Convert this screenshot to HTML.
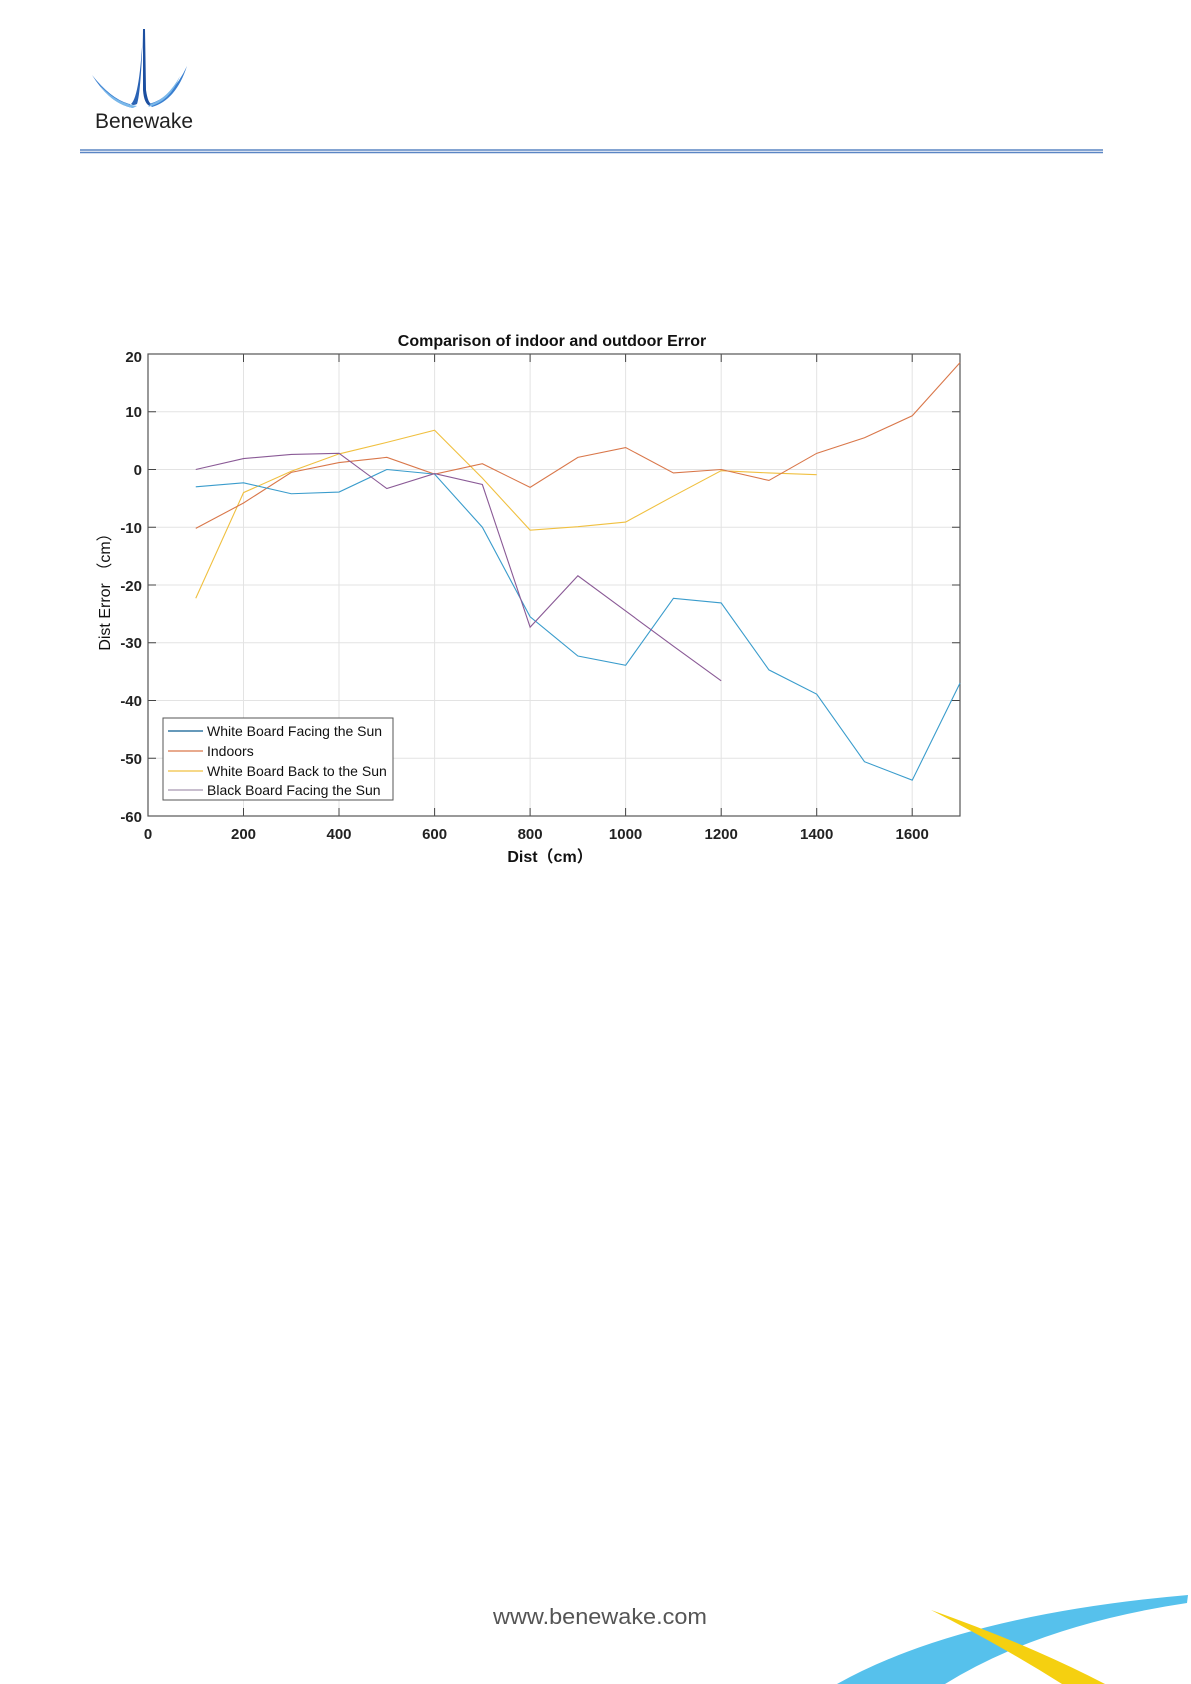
<!DOCTYPE html>
<html><head><meta charset="utf-8"><style>
html,body{margin:0;padding:0;background:#fff;}
body{width:1191px;height:1684px;position:relative;overflow:hidden;font-family:"Liberation Sans","Noto Sans CJK SC",sans-serif;}
</style></head><body>
<svg width="1191" height="1684" viewBox="0 0 1191 1684" xmlns="http://www.w3.org/2000/svg" style="position:absolute;left:0;top:0">
<!-- logo -->
<path d="M143,29 L145,29 L146,90 Q148,104 152,104 L150,106 Q144,104 143,90 Z" fill="#1c4fa0"/>
<path d="M143,29 Q141,92 137,104 Q133,106 131,104 Q140,96 143,29Z" fill="#2a63b5"/>
<path d="M92,75 Q112,100 130,104 L133,108 Q110,104 92,75Z" fill="#3a7fd0"/>
<path d="M187,66 Q176,100 152,107 L149,104 Q172,98 187,66Z" fill="#3a7fd0"/>
<path d="M99,84 Q115,103 137,106 L133,108 Q112,104 99,84Z" fill="#7ab8ea"/>
<path d="M180,76 Q170,102 148,107 L151,104 Q168,98 180,76Z" fill="#7ab8ea"/>
<text x="95" y="128" font-size="21" fill="#222" textLength="98" lengthAdjust="spacingAndGlyphs">Benewake</text>
<!-- header lines -->
<line x1="80" y1="150" x2="1103" y2="150" stroke="#5b86c4" stroke-width="1.5"/>
<line x1="80" y1="152.5" x2="1103" y2="152.5" stroke="#5b86c4" stroke-width="1.5"/>
<!-- grid -->
<g stroke="#e3e3e3" stroke-width="1">
<line x1="243.5" y1="354" x2="243.5" y2="816"/><line x1="339" y1="354" x2="339" y2="816"/><line x1="434.6" y1="354" x2="434.6" y2="816"/><line x1="530.1" y1="354" x2="530.1" y2="816"/><line x1="625.6" y1="354" x2="625.6" y2="816"/><line x1="721.2" y1="354" x2="721.2" y2="816"/><line x1="816.7" y1="354" x2="816.7" y2="816"/><line x1="912.2" y1="354" x2="912.2" y2="816"/>
<line x1="148" y1="411.75" x2="960" y2="411.75"/><line x1="148" y1="469.5" x2="960" y2="469.5"/><line x1="148" y1="527.25" x2="960" y2="527.25"/><line x1="148" y1="585" x2="960" y2="585"/><line x1="148" y1="642.75" x2="960" y2="642.75"/><line x1="148" y1="700.5" x2="960" y2="700.5"/><line x1="148" y1="758.25" x2="960" y2="758.25"/>
</g>
<!-- ticks -->
<g stroke="#444" stroke-width="1">
<path d="M243.5,816v-8M339,816v-8M434.6,816v-8M530.1,816v-8M625.6,816v-8M721.2,816v-8M816.7,816v-8M912.2,816v-8M243.5,354v8M339,354v8M434.6,354v8M530.1,354v8M625.6,354v8M721.2,354v8M816.7,354v8M912.2,354v8"/>
<path d="M148,411.75h8M148,469.5h8M148,527.25h8M148,585h8M148,642.75h8M148,700.5h8M148,758.25h8M960,411.75h-8M960,469.5h-8M960,527.25h-8M960,585h-8M960,642.75h-8M960,700.5h-8M960,758.25h-8"/>
</g>
<rect x="148" y="354" width="812" height="462" fill="none" stroke="#555" stroke-width="1.2"/>
<!-- series -->
<g transform="translate(148,469.5) scale(0.47765,-5.775)" fill="none" stroke-width="1.1">
<polyline vector-effect="non-scaling-stroke" stroke="#f0c040" points="100,-22.3 200,-4 300,-0.3 400,2.7 500,4.7 600,6.8 700,-1.5 800,-10.5 900,-9.9 1000,-9.1 1100,-4.6 1200,-0.2 1300,-0.6 1400,-0.9"/>
<polyline vector-effect="non-scaling-stroke" stroke="#d9774a" points="100,-10.2 200,-5.8 300,-0.5 400,1.2 500,2.1 600,-0.8 700,1 800,-3.1 900,2.1 1000,3.8 1100,-0.6 1200,0 1300,-1.9 1400,2.8 1500,5.5 1600,9.3 1700,18.5"/>
<polyline vector-effect="non-scaling-stroke" stroke="#3a9ccc" points="100,-3 200,-2.3 300,-4.2 400,-3.9 500,0 600,-0.8 700,-10 800,-25.5 900,-32.3 1000,-33.9 1100,-22.3 1200,-23.1 1300,-34.7 1400,-38.9 1500,-50.6 1600,-53.8 1700,-37"/>
<polyline vector-effect="non-scaling-stroke" stroke="#8a5a96" points="100,0 200,1.9 300,2.6 400,2.8 500,-3.3 600,-0.7 700,-2.6 800,-27.3 900,-18.4 1000,-24.5 1100,-30.6 1200,-36.6"/>
</g>
<!-- tick labels -->
<g font-size="15" font-weight="bold" fill="#222" text-anchor="end">
<text x="142" y="362">20</text><text x="142" y="417">10</text><text x="142" y="475">0</text><text x="142" y="533">-10</text><text x="142" y="591">-20</text><text x="142" y="648">-30</text><text x="142" y="706">-40</text><text x="142" y="764">-50</text><text x="142" y="822">-60</text>
</g>
<g font-size="15" font-weight="bold" fill="#222" text-anchor="middle">
<text x="148" y="839">0</text><text x="243.5" y="839">200</text><text x="339" y="839">400</text><text x="434.6" y="839">600</text><text x="530.1" y="839">800</text><text x="625.6" y="839">1000</text><text x="721.2" y="839">1200</text><text x="816.7" y="839">1400</text><text x="912.2" y="839">1600</text>
</g>
<text x="552" y="346" font-size="16" font-weight="bold" fill="#111" text-anchor="middle">Comparison of  indoor and outdoor Error</text>
<text x="550" y="862" font-size="16" font-weight="bold" fill="#111" text-anchor="middle">Dist（cm）</text>
<text transform="translate(110,588) rotate(-90)" font-size="16" fill="#111" text-anchor="middle">Dist Error （cm）</text>
<!-- legend -->
<rect x="163" y="718" width="230" height="82" fill="#fff" stroke="#555" stroke-width="1"/>
<g stroke-width="1.3">
<line x1="168" y1="731" x2="203" y2="731" stroke="#0a5c90"/>
<line x1="168" y1="751" x2="203" y2="751" stroke="#d9774a"/>
<line x1="168" y1="771" x2="203" y2="771" stroke="#f0c040"/>
<line x1="168" y1="790" x2="203" y2="790" stroke="#a898b0"/>
</g>
<g font-size="14" fill="#111">
<text x="207" y="736">White Board Facing the Sun</text>
<text x="207" y="756">Indoors</text>
<text x="207" y="776">White Board Back to the Sun</text>
<text x="207" y="795">Black Board Facing the Sun</text>
</g>
<!-- footer -->
<text x="493" y="1624" font-size="22" fill="#555" textLength="214" lengthAdjust="spacingAndGlyphs">www.benewake.com</text>
<path d="M837,1684 Q960,1615 1188,1595 L1187,1603 Q1040,1625 945,1684Z" fill="#56c1ec"/>
<path d="M931,1610 Q1030,1645 1105,1684 L1062,1684 Q1000,1645 931,1610Z" fill="#f5d010"/>
</svg>
</body></html>
